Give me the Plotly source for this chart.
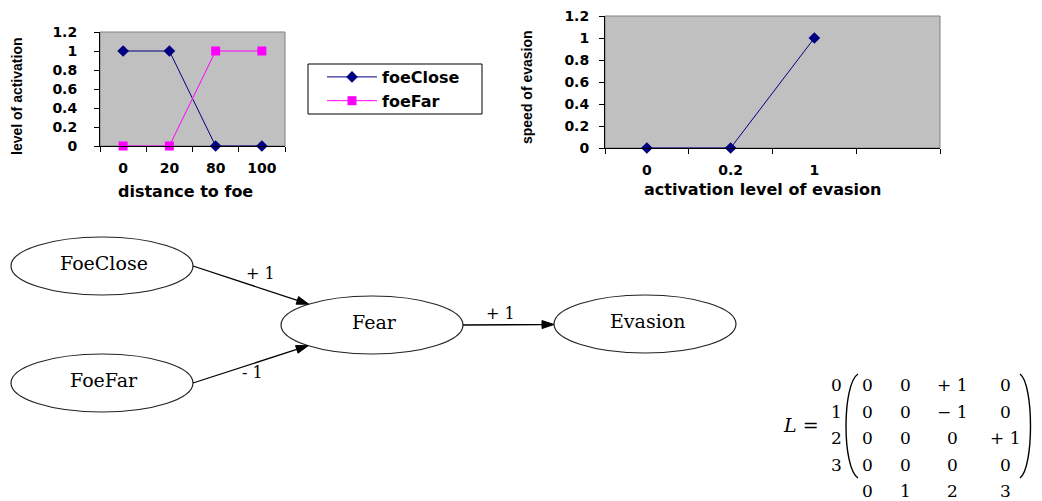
import plotly.graph_objects as go

# ---------------- data ----------------
dist_categories = ["0", "20", "80", "100"]
foe_close = [1, 1, 0, 0]
foe_far = [0, 0, 1, 1]

evasion_categories = ["0", "0.2", "1"]
speed_of_evasion = [0, 0, 1]

node_names = ["FoeClose", "FoeFar", "Fear", "Evasion"]
edges = [("FoeClose", "Fear", "+ 1"), ("FoeFar", "Fear", "- 1"), ("Fear", "Evasion", "+ 1")]

matrix_rows = ["0", "1", "2", "3"]
matrix_cols = ["0", "1", "2", "3"]
matrix_values = [
    ["0", "0", "+ 1", "0"],
    ["0", "0", "\u2212 1", "0"],
    ["0", "0", "0", "+ 1"],
    ["0", "0", "0", "0"],
]

# ---------------- layout helpers (screen pixel -> paper) ----------------
W, H = 1042, 501
OFF = 8  # page body margin
def px(x):
    return (x - OFF) / W
def py(y):
    return 1 - (y - OFF) / H

BOLD = "DejaVu Sans"
ARIAL = "Liberation Sans, Arial, sans-serif"
SERIF = "DejaVu Serif, serif"
NAVY = "#000080"
MAGENTA = "#FF00FF"

fig = go.Figure()

fig.add_trace(go.Scatter(x=list(range(len(dist_categories))), y=foe_close, name="foeClose",
                         mode="lines+markers", line=dict(color=NAVY, width=1),
                         marker=dict(symbol="diamond", size=9, color=NAVY),
                         cliponaxis=False, xaxis="x", yaxis="y"))
fig.add_trace(go.Scatter(x=list(range(len(dist_categories))), y=foe_far, name="foeFar",
                         mode="lines+markers", line=dict(color=MAGENTA, width=1),
                         marker=dict(symbol="square", size=9, color=MAGENTA),
                         cliponaxis=False, xaxis="x", yaxis="y"))
fig.add_trace(go.Scatter(x=list(range(len(evasion_categories))), y=speed_of_evasion,
                         name="speed", showlegend=False,
                         mode="lines+markers", line=dict(color=NAVY, width=1),
                         marker=dict(symbol="diamond", size=9, color=NAVY),
                         cliponaxis=False, xaxis="x2", yaxis="y2"))

tickfont = dict(family=BOLD, size=14, color="black", weight="bold")

def xaxis_cfg(domain, labels, nbands, anchor):
    return dict(domain=domain, range=[-0.5, nbands - 0.5], tickmode="array",
                tickvals=list(range(len(labels))), ticktext=labels, ticks="",
                showline=True, linecolor="black", linewidth=1, showgrid=False,
                zeroline=False, tickfont=tickfont, anchor=anchor, fixedrange=True,
                ticklabelstandoff=9, automargin=False, ticklabeloverflow="allow",
                minor=dict(tickmode="array", tickvals=[b - 0.5 for b in range(nbands + 1)],
                           ticks="outside", ticklen=5, tickcolor="black", tickwidth=1,
                           showgrid=False))

def yaxis_cfg(domain, anchor, standoff):
    return dict(domain=domain, range=[0, 1.2], tickmode="linear", tick0=0, dtick=0.2,
                ticks="outside", ticklen=5, tickcolor="black", showline=True,
                linecolor="black", linewidth=1, showgrid=False, zeroline=False,
                tickfont=tickfont, anchor=anchor, fixedrange=True, automargin=False,
                ticklabelstandoff=standoff, ticklabeloverflow="allow")

fig.update_layout(
    width=W, height=H, margin=dict(l=0, r=0, t=0, b=0, autoexpand=False),
    paper_bgcolor="white", plot_bgcolor="rgba(0,0,0,0)",
    xaxis=xaxis_cfg([px(100), px(285)], dist_categories, 4, "y"),
    yaxis=yaxis_cfg([py(146), py(32)], "x", 14),
    xaxis2=xaxis_cfg([px(605), px(940)], evasion_categories, 4, "y2"),
    yaxis2=yaxis_cfg([py(148), py(16)], "x2", 7),
    legend=dict(x=px(322), y=py(60), xanchor="left", yanchor="top",
                borderwidth=0, bgcolor="rgba(0,0,0,0)", itemwidth=50,
                font=dict(family=BOLD, size=16, color="black", weight="bold"),
                tracegroupgap=0),
    showlegend=True,
)

shapes = []
annotations = []

for xr, yr in [("x domain", "y domain"), ("x2 domain", "y2 domain")]:
    shapes.append(dict(type="rect", xref=xr, yref=yr, x0=0, x1=1, y0=0, y1=1,
                       fillcolor="#C0C0C0", line=dict(color="#808080", width=1), layer="below"))

# legend frame
shapes.append(dict(type="rect", xref="paper", yref="paper", x0=px(308), x1=px(482),
                   y0=py(114), y1=py(64), line=dict(color="black", width=1),
                   fillcolor="white", layer="below"))

def text(x, y, t, size, family, angle=0, weight="normal", xanchor="center"):
    annotations.append(dict(x=px(x), y=py(y), xref="paper", yref="paper", text=t,
                            showarrow=False, textangle=angle, xanchor=xanchor, yanchor="middle",
                            font=dict(family=family, size=size, color="black", weight=weight)))

text(185, 191, "distance to foe", 16, BOLD, weight="bold")
text(17, 97, "level of activation", 14, ARIAL, angle=-90, weight="bold")
text(762, 189, "activation level of evasion", 16, BOLD, weight="bold")
text(527, 87, "speed of evasion", 14, ARIAL, angle=-90, weight="bold")

# ---------------- diagram ----------------
node_pos = {"FoeClose": (102, 266), "FoeFar": (102, 383), "Fear": (372, 325), "Evasion": (645, 324)}
RX, RY = 91, 29
label_pos = {0: (260, 273), 1: (252, 372), 2: (500, 313)}

for name in node_names:
    cx, cy = node_pos[name]
    shapes.append(dict(type="circle", xref="paper", yref="paper",
                       x0=px(cx - RX), x1=px(cx + RX), y0=py(cy + RY), y1=py(cy - RY),
                       line=dict(color="#222222", width=1.2), fillcolor="white"))
    text(cx + 2, cy - 3, name, 19, SERIF)

def ellipse_hit(sx, sy, cx, cy):
    lo, hi = 0.0, 1.0
    for _ in range(60):
        mid = (lo + hi) / 2
        x = sx + (cx - sx) * mid
        y = sy + (cy - sy) * mid
        if ((x - cx) / RX) ** 2 + ((y - cy) / RY) ** 2 > 1:
            lo = mid
        else:
            hi = mid
    return sx + (cx - sx) * lo, sy + (cy - sy) * lo

AL, AW = 12, 8
for i, (src, dst, w) in enumerate(edges):
    scx, scy = node_pos[src]
    dcx, dcy = node_pos[dst]
    sx, sy = scx + RX, scy
    ex, ey = ellipse_hit(sx, sy, dcx, dcy)
    dx, dy = ex - sx, ey - sy
    L = (dx ** 2 + dy ** 2) ** 0.5
    ux, uy = dx / L, dy / L
    bx, by = ex - ux * AL, ey - uy * AL
    shapes.append(dict(type="line", xref="paper", yref="paper", x0=px(sx), y0=py(sy),
                       x1=px(bx), y1=py(by), line=dict(color="black", width=1.3)))
    p1 = (bx - uy * AW / 2, by + ux * AW / 2)
    p2 = (bx + uy * AW / 2, by - ux * AW / 2)
    path = "M {} {} L {} {} L {} {} Z".format(px(ex), py(ey), px(p1[0]), py(p1[1]), px(p2[0]), py(p2[1]))
    shapes.append(dict(type="path", xref="paper", yref="paper", path=path,
                       fillcolor="black", line=dict(color="black", width=1)))
    lx, ly = label_pos[i]
    text(lx, ly, w, 16, SERIF)

# ---------------- matrix ----------------
col_x = [867, 905, 952, 1005]
row_y = [385, 412, 438, 465]
text(801, 425, "<i>L</i> =", 19, SERIF)
for r, lab in enumerate(matrix_rows):
    text(836, row_y[r], lab, 17, SERIF)
    for c in range(len(matrix_cols)):
        text(col_x[c], row_y[r], matrix_values[r][c], 17, SERIF)
for c, lab in enumerate(matrix_cols):
    text(col_x[c], 491, lab, 17, SERIF)

def bracket(x_end, x_bulge, y0, y1):
    return "M {} {} C {} {} {} {} {} {}".format(px(x_end), py(y0), px(x_bulge), py(y0 + 10),
                                                px(x_bulge), py(y1 - 10), px(x_end), py(y1))
shapes.append(dict(type="path", xref="paper", yref="paper", path=bracket(858, 842, 374, 478),
                   line=dict(color="black", width=1.4)))
shapes.append(dict(type="path", xref="paper", yref="paper", path=bracket(1020, 1034, 374, 478),
                   line=dict(color="black", width=1.4)))

fig.update_layout(shapes=shapes, annotations=annotations)
fig.write_html("out.html")
